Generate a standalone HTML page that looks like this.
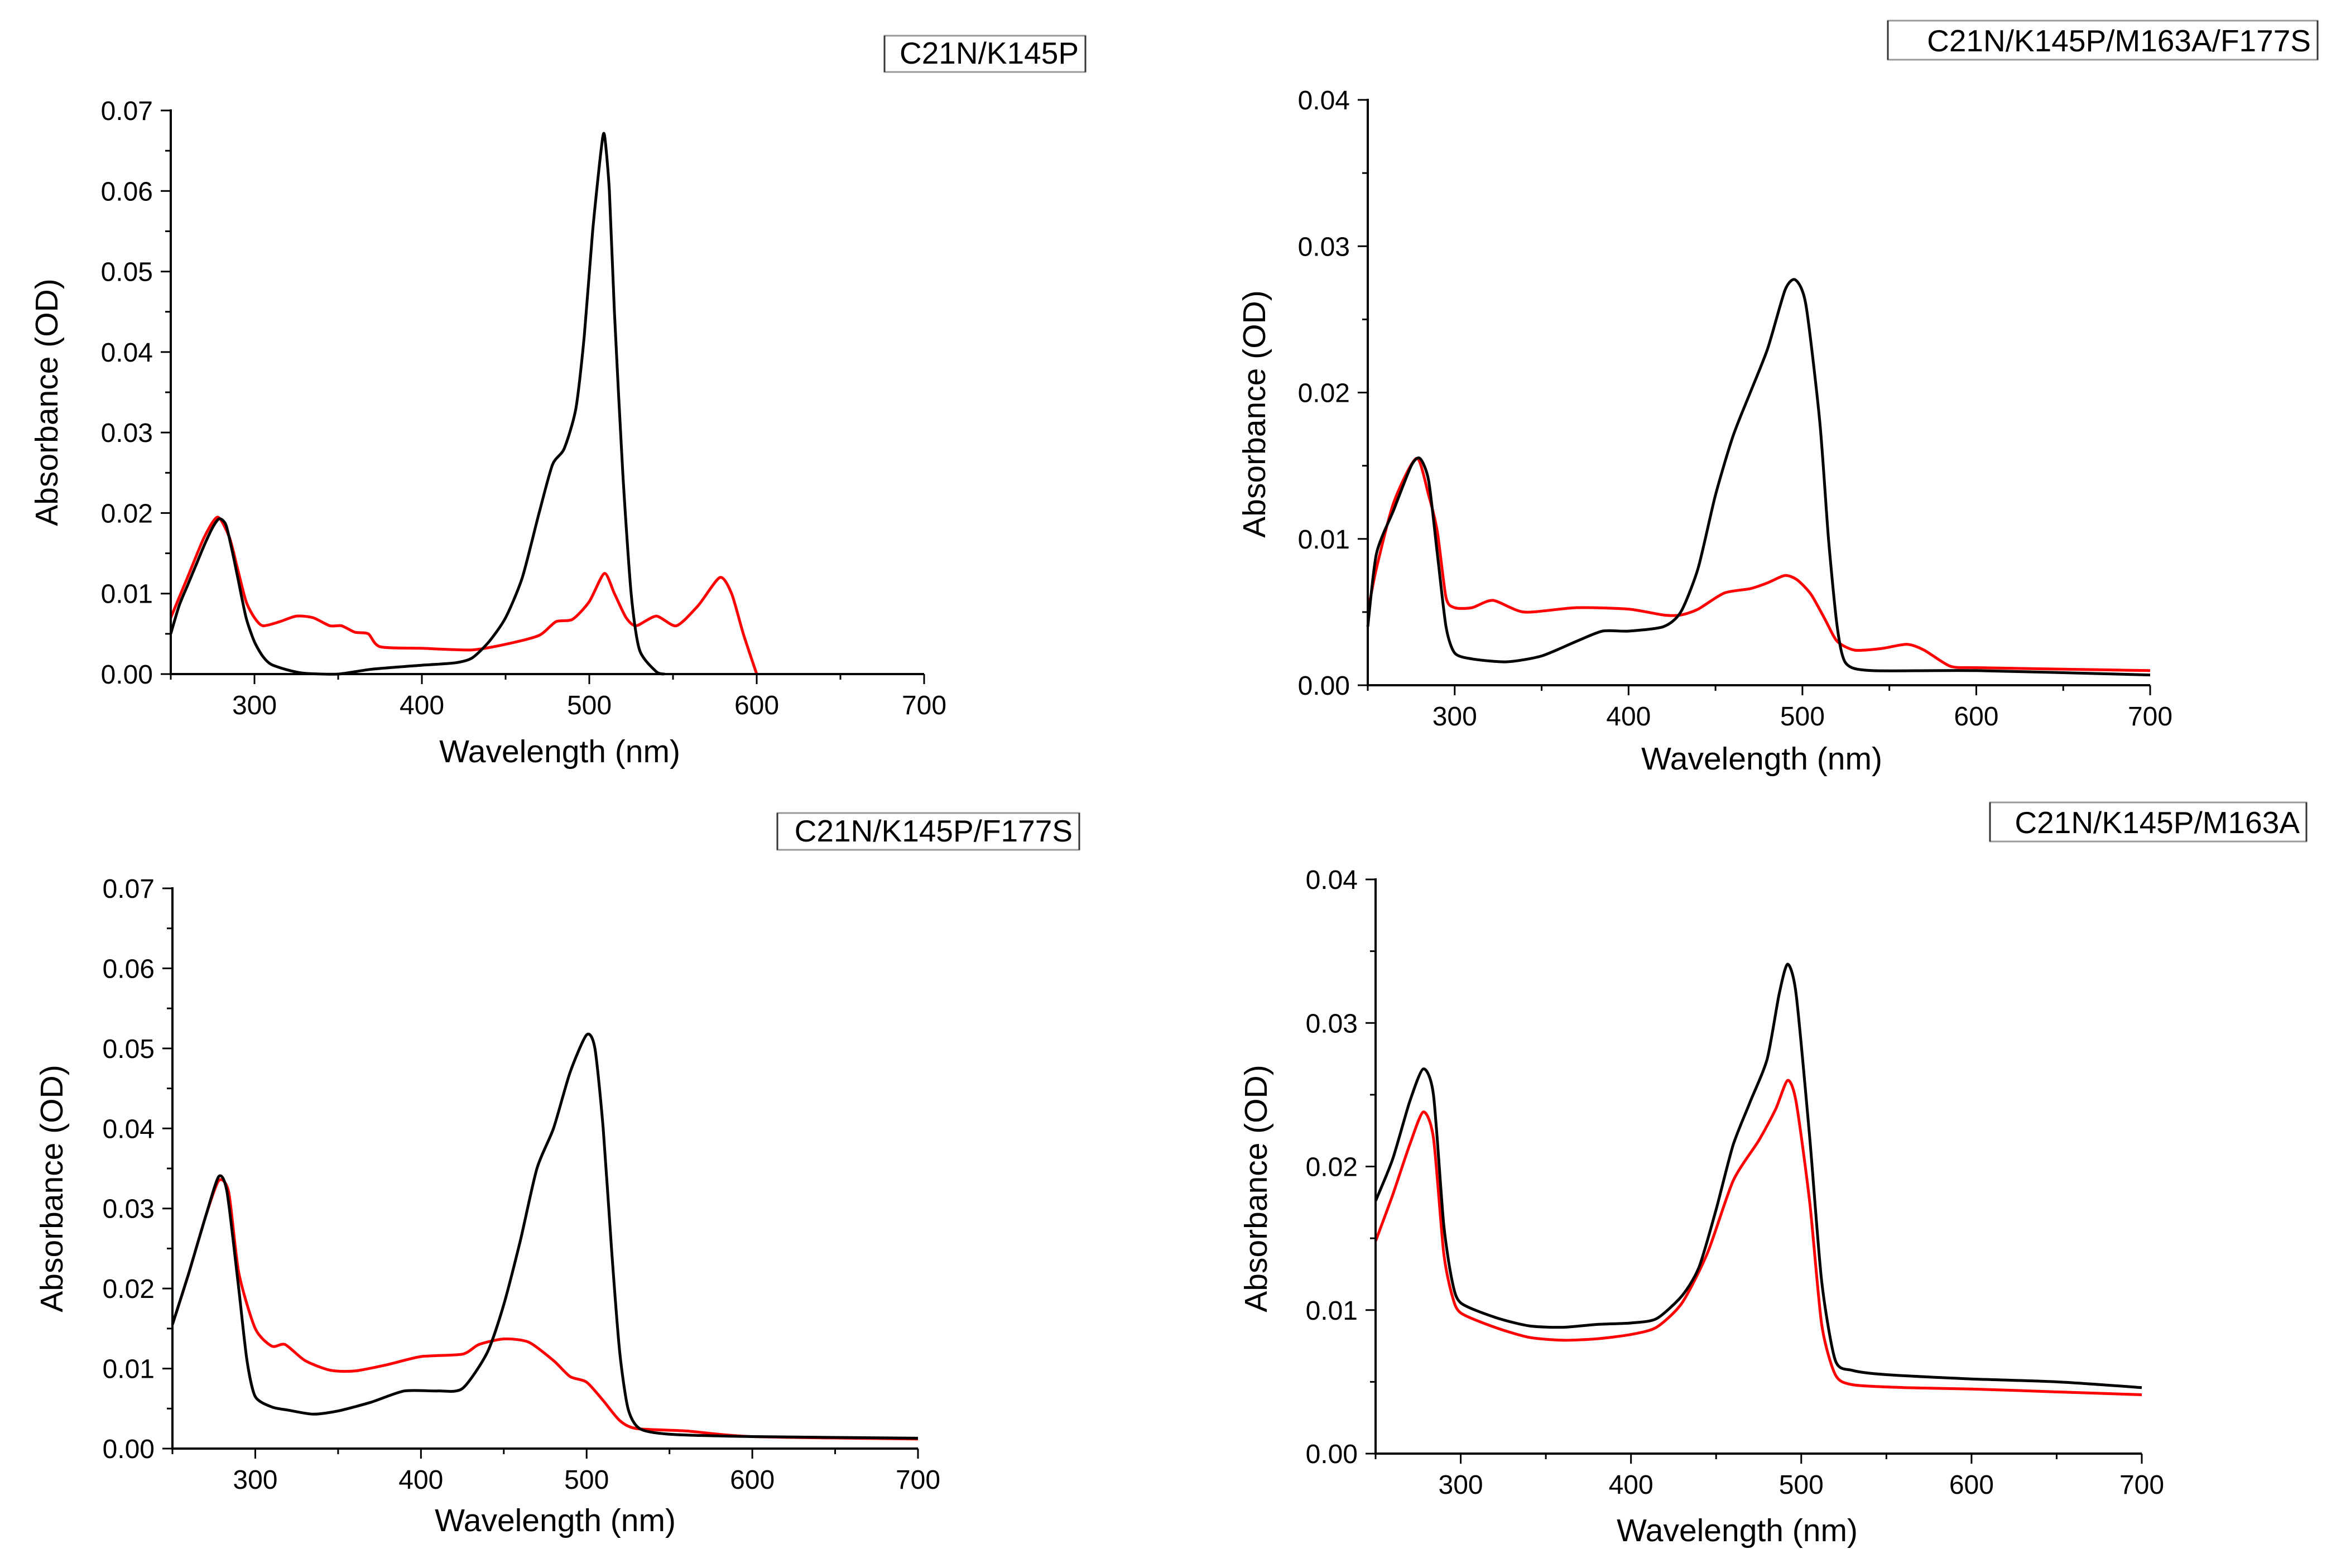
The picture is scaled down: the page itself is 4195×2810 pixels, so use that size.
<!DOCTYPE html>
<html><head><meta charset="utf-8"><style>
html,body{margin:0;padding:0;background:#fff}
svg{display:block}
text{font-family:"Liberation Sans",Arial,sans-serif;fill:#000}
</style></head><body>
<svg id="fig" width="4195" height="2810" viewBox="0 0 4195 2810" xmlns="http://www.w3.org/2000/svg"></svg>
<script>
// ---------- data (wavelength nm / absorbance OD) ----------
const p1BlackWl  = [250,255,260,265,270,275,279,283,287,290,295,300,305,310,320,330,350,370,400,420,430,440,450,460,470,478,485,492,497,502,507,509,512,515,520,525,530,540,545];
const p1BlackAbs = [0.005,0.0085,0.011,0.0135,0.016,0.0182,0.0193,0.0185,0.015,0.012,0.007,0.004,0.0022,0.0012,0.0005,0.0001,0,0.0006,0.0011,0.0014,0.002,0.004,0.007,0.012,0.02,0.026,0.028,0.033,0.042,0.055,0.065,0.067,0.06,0.045,0.025,0.01,0.003,0.0003,0];
const p1RedWl    = [250,260,270,278,285,290,295,300,305,315,325,335,345,352,360,368,375,400,430,450,470,480,490,500,509,515,522,528,540,552,565,578,585,592,600];
const p1RedAbs   = [0.007,0.012,0.017,0.0195,0.017,0.013,0.009,0.007,0.006,0.0065,0.0072,0.007,0.006,0.006,0.0052,0.005,0.0034,0.0032,0.003,0.0037,0.0048,0.0065,0.0068,0.009,0.0125,0.01,0.007,0.006,0.0072,0.006,0.0085,0.012,0.01,0.005,0];

const p2BlackWl  = [250,255,265,275,280,285,290,295,300,310,330,350,370,385,400,420,430,440,450,460,470,480,490,496,502,510,515,520,525,540,600,700];
const p2BlackAbs = [0.004,0.009,0.012,0.015,0.0155,0.014,0.009,0.004,0.0022,0.0018,0.0016,0.002,0.003,0.0037,0.0037,0.004,0.005,0.008,0.013,0.017,0.02,0.023,0.027,0.0277,0.026,0.018,0.01,0.004,0.0015,0.001,0.001,0.0007];
const p2RedWl    = [250,255,265,278,285,290,295,300,310,322,340,370,400,420,430,440,455,470,480,490,497,505,513,520,530,545,560,570,585,600,650,700];
const p2RedAbs   = [0.005,0.008,0.0125,0.0155,0.013,0.0105,0.006,0.0053,0.0053,0.0058,0.005,0.0053,0.0052,0.0048,0.0048,0.0052,0.0063,0.0066,0.007,0.0075,0.0072,0.0062,0.0045,0.003,0.0024,0.0025,0.0028,0.0024,0.0013,0.0012,0.0011,0.001];

const p3BlackWl  = [250,260,270,278,283,290,295,300,310,320,335,350,370,390,410,425,440,450,460,470,480,490,500,505,510,515,520,525,532,550,600,700];
const p3BlackAbs = [0.0155,0.022,0.029,0.034,0.032,0.02,0.011,0.0065,0.0052,0.0048,0.0043,0.0047,0.0058,0.0072,0.0072,0.0075,0.012,0.018,0.026,0.035,0.04,0.047,0.0517,0.05,0.04,0.025,0.012,0.005,0.0025,0.0018,0.0015,0.0013];
const p3RedWl    = [250,260,270,278,284,290,300,310,318,330,345,360,380,400,425,435,450,465,480,490,500,510,520,530,560,600,700];
const p3RedAbs   = [0.0155,0.022,0.029,0.0335,0.032,0.022,0.015,0.0128,0.013,0.011,0.0098,0.0097,0.0105,0.0115,0.0118,0.013,0.0137,0.0133,0.011,0.009,0.0083,0.006,0.0035,0.0025,0.0022,0.0015,0.0012];

const p4BlackWl  = [250,260,270,278,284,290,295,300,320,340,360,380,400,415,430,440,450,460,470,480,487,492,497,505,512,520,530,550,600,650,700];
const p4BlackAbs = [0.0176,0.0205,0.0245,0.0268,0.025,0.016,0.012,0.0105,0.0095,0.0089,0.0088,0.009,0.0091,0.0094,0.011,0.013,0.017,0.0215,0.0245,0.0275,0.032,0.0341,0.032,0.022,0.012,0.0065,0.0058,0.0055,0.0052,0.005,0.0046];
const p4RedWl    = [250,260,270,278,284,290,295,300,320,340,360,380,400,415,430,445,460,475,485,492,497,505,512,520,530,560,600,650,700];
const p4RedAbs   = [0.0148,0.018,0.0215,0.0238,0.022,0.014,0.011,0.0098,0.0088,0.0081,0.0079,0.008,0.0083,0.0088,0.0105,0.014,0.019,0.0218,0.024,0.026,0.0245,0.0175,0.009,0.0055,0.0048,0.0046,0.0045,0.0043,0.0041];

const xTickLabels = ["300","400","500","600","700"];
const yTicksA = ["0.00","0.01","0.02","0.03","0.04","0.05","0.06","0.07"];
const yTicksB = ["0.00","0.01","0.02","0.03","0.04"];
const panelTitles = ["C21N/K145P","C21N/K145P/M163A/F177S","C21N/K145P/F177S","C21N/K145P/M163A"];

// ---------- layout ----------
const panels = [
  {x0:306,x1:1656,y0:1208,y1:198,ymax:0.07,ticks:yTicksA,box:[1585,64,1945,129],xt:[1003,1366],yt:[83,721],
   series:[[p1RedWl,p1RedAbs,"#ff0000"],[p1BlackWl,p1BlackAbs,"#000"]]},
  {x0:2451,x1:3853,y0:1228,y1:179,ymax:0.04,ticks:yTicksB,box:[3383,37,4153,107],xt:[3157,1379],yt:[2247,742],
   series:[[p2RedWl,p2RedAbs,"#ff0000"],[p2BlackWl,p2BlackAbs,"#000"]]},
  {x0:309,x1:1645,y0:2596,y1:1592,ymax:0.07,ticks:yTicksA,box:[1393,1457,1934,1523],xt:[995,2744],yt:[92,2130],
   series:[[p3RedWl,p3RedAbs,"#ff0000"],[p3BlackWl,p3BlackAbs,"#000"]]},
  {x0:2465,x1:3838,y0:2605,y1:1576,ymax:0.04,ticks:yTicksB,box:[3566,1438,4133,1508],xt:[3113,2762],yt:[2250,2130],
   series:[[p4RedWl,p4RedAbs,"#ff0000"],[p4BlackWl,p4BlackAbs,"#000"]]}
];
const NS="http://www.w3.org/2000/svg";
const svg=document.getElementById('fig');
function mk(tag,attrs,parent){const e=document.createElementNS(NS,tag);for(const k in attrs)e.setAttribute(k,attrs[k]);(parent||svg).appendChild(e);return e;}
function smoothPath(P){
  let d='M'+P[0][0].toFixed(1)+','+P[0][1].toFixed(1);
  const t=0.12;
  for(let i=0;i<P.length-1;i++){
    const p0=P[Math.max(0,i-1)],p1=P[i],p2=P[i+1],p3=P[Math.min(P.length-1,i+2)];
    const c1x=p1[0]+(p2[0]-p0[0])*t,c1y=p1[1]+(p2[1]-p0[1])*t;
    const c2x=p2[0]-(p3[0]-p1[0])*t,c2y=p2[1]-(p3[1]-p1[1])*t;
    d+=`C${c1x.toFixed(1)},${c1y.toFixed(1)} ${c2x.toFixed(1)},${c2y.toFixed(1)} ${p2[0].toFixed(1)},${p2[1].toFixed(1)}`;
  }
  return d;
}

panels.forEach((p,i)=>{
  const g=mk('g',{});
  
  
  const sx=v=>p.x0+(v-250)/450*(p.x1-p.x0);
  const sy=v=>p.y0-(v/p.ymax)*(p.y0-p.y1);
  p.series.forEach(s=>{
    const pts=s[0].map((w,k)=>[sx(w),sy(s[1][k])]);
    const pl=mk('path',{d:smoothPath(pts),fill:'none',stroke:s[2],'stroke-width':5,'stroke-linejoin':'round'},g);
    
    
  });
  const ax=mk('path',{d:`M${p.x0},${p.y1-2}V${p.y0}H${p.x1}`,fill:'none',stroke:'#000','stroke-width':4},g);
  
  
  for(let w=250;w<=700;w+=50){
    const major=w%100===0;
    mk('line',{x1:sx(w),x2:sx(w),y1:p.y0,y2:p.y0+(major?18:10),stroke:'#000','stroke-width':3},g);
  }
  xTickLabels.forEach(lbl=>{
    const t=mk('text',{x:sx(+lbl),y:p.y0+72,'text-anchor':'middle','font-size':48},g);
    t.textContent=lbl;
    
    
  });
  const n=p.ticks.length-1;
  for(let k=0;k<=n*2;k++){
    const v=k*0.005;
    mk('line',{x1:p.x0,x2:p.x0-(k%2===0?18:10),y1:sy(v),y2:sy(v),stroke:'#000','stroke-width':3},g);
  }
  p.ticks.forEach(lbl=>{
    const t=mk('text',{x:p.x0-32,y:sy(+lbl)+17,'text-anchor':'end','font-size':48},g);
    t.textContent=lbl;
    
    
  });
  const xt=mk('text',{x:p.xt[0],y:p.xt[1],'text-anchor':'middle','font-size':57},g);
  xt.textContent='Wavelength (nm)';
  
  
  const yt=mk('text',{x:0,y:0,'text-anchor':'middle','font-size':57,transform:`translate(${p.yt[0]+20},${p.yt[1]}) rotate(-90)`},g);
  yt.textContent='Absorbance (OD)';
  
  
  const b=p.box;
  const r=mk('rect',{x:b[0],y:b[1],width:b[2]-b[0],height:b[3]-b[1],fill:'#fff',stroke:'#999','stroke-width':3},g);
  
  
  mk('line',{x1:b[0],x2:b[0],y1:b[1],y2:b[3],stroke:'#333','stroke-width':3},g);
  mk('line',{x1:b[2],x2:b[2],y1:b[1],y2:b[3],stroke:'#333','stroke-width':3},g);
  const lt=mk('text',{x:b[2]-12,y:b[3]-15,'text-anchor':'end','font-size':55},g);
  lt.textContent=panelTitles[i];
  
  
});
</script>
</body></html>
